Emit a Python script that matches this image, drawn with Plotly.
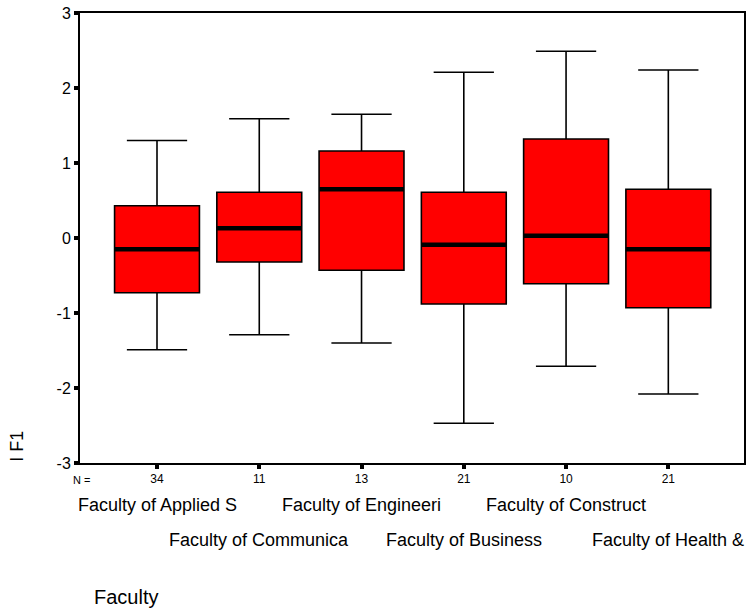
import plotly.graph_objects as go

# Faculty groups and their five-number summaries of I F1
faculties = [
    "Faculty of Applied S",
    "Faculty of Communica",
    "Faculty of Engineeri",
    "Faculty of Business",
    "Faculty of Construct",
    "Faculty of Health &",
]
counts = [34, 11, 13, 21, 10, 21]
lower_whisker = [-1.49, -1.29, -1.40, -2.47, -1.71, -2.08]
q1 = [-0.73, -0.32, -0.43, -0.88, -0.61, -0.93]
median = [-0.15, 0.13, 0.65, -0.09, 0.03, -0.15]
q3 = [0.43, 0.61, 1.16, 0.61, 1.32, 0.65]
upper_whisker = [1.30, 1.59, 1.65, 2.21, 2.49, 2.24]
y_ticks = [-3, -2, -1, 0, 1, 2, 3]

positions = list(range(len(faculties)))
box_width = 0.83
font_family = "Liberation Sans, Arial, sans-serif"

fig = go.Figure()

fig.add_trace(go.Box(
    x=positions,
    q1=q1,
    median=median,
    q3=q3,
    lowerfence=lower_whisker,
    upperfence=upper_whisker,
    width=box_width,
    whiskerwidth=0.71,
    fillcolor="#FF0000",
    line=dict(color="black", width=1.6),
    boxpoints=False,
    hoverinfo="skip",
    showlegend=False,
))

# Heavier median bars drawn over each box
med_x, med_y = [], []
for p, m in zip(positions, median):
    med_x += [p - box_width / 2, p + box_width / 2, None]
    med_y += [m, m, None]
fig.add_trace(go.Scatter(
    x=med_x, y=med_y, mode="lines",
    line=dict(color="black", width=4.5),
    hoverinfo="skip", showlegend=False,
))

annotations = []
# Staggered category names below the group sizes
for i, name in enumerate(faculties):
    annotations.append(dict(
        x=positions[i], xref="x", y=0, yref="paper",
        yanchor="middle", xanchor="center",
        yshift=-42 if i % 2 == 0 else -77,
        text=name, showarrow=False,
        font=dict(family=font_family, size=18, color="black"),
    ))
annotations.append(dict(
    x=0.002, xref="paper", y=0, yref="paper", xanchor="center",
    yanchor="middle", yshift=-17, text="N =", showarrow=False,
    font=dict(family=font_family, size=11, color="black"),
))
annotations.append(dict(
    x=0.018, xref="paper", y=-0.297, yref="paper", xanchor="left",
    yanchor="middle", text="Faculty", showarrow=False,
    font=dict(family=font_family, size=20, color="black"),
))
annotations.append(dict(
    x=-0.095, xref="paper", y=0.038, yref="paper", xanchor="center",
    yanchor="middle", text="I F1", textangle=-90, showarrow=False,
    font=dict(family=font_family, size=18, color="black"),
))

fig.update_layout(
    width=748, height=612,
    margin=dict(l=80, r=2, t=13, b=149),
    paper_bgcolor="white", plot_bgcolor="white",
    font=dict(family=font_family, color="black"),
    annotations=annotations,
    xaxis=dict(
        range=[-0.753, 5.74],
        tickvals=positions, ticktext=[str(c) for c in counts],
        ticks="outside", ticklen=4, tickwidth=4, tickcolor="black",
        tickfont=dict(size=12),
        showline=True, linecolor="black", linewidth=2, mirror=True,
        showgrid=False, zeroline=False,
    ),
    yaxis=dict(
        range=[-3, 3],
        tickvals=y_ticks, ticktext=[str(t) for t in y_ticks],
        ticks="outside", ticklen=4, tickwidth=4, tickcolor="black",
        tickfont=dict(size=16),
        showline=True, linecolor="black", linewidth=2, mirror=True,
        showgrid=False, zeroline=False,
    ),
)

fig.write_html("out.html")
